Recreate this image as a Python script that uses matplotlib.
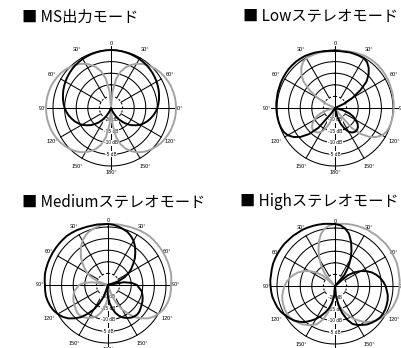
import numpy as np
import matplotlib
matplotlib.use("Agg")
import matplotlib.pyplot as plt

# polar response in dB, every 5 degrees clockwise from the front (0)
angles_deg = np.arange(0, 360, 5)

ms_black = [0, -0.03, -0.1, -0.2, -0.3, -0.45, -0.6, -0.8, -1.0, -1.3,
            -1.6, -1.95, -2.3, -2.7, -3.1, -3.55, -4.0, -4.5, -5.0, -5.7,
            -6.5, -7.4, -8.3, -9.4, -10.5, -12, -13.5, -15.2, -17, -19,
            -21, -23, -25, -25, -25, -25, -25, -25, -25, -25,
            -25, -23, -21, -19, -17, -15.2, -13.5, -12, -10.5, -9.4,
            -8.3, -7.4, -6.5, -5.7, -5.0, -4.5, -4.0, -3.55, -3.1, -2.7,
            -2.3, -1.95, -1.6, -1.3, -1.0, -0.8, -0.6, -0.45, -0.3, -0.2,
            -0.1, -0.03]
ms_gray = [-25, -18, -12.2, -8.7, -6.3, -4.5, -3.0, -1.8, -0.8, 0,
           0.7, 1.3, 1.75, 2.15, 2.5, 2.7, 2.9, 3.0, 3.0, 3.0,
           2.9, 2.7, 2.5, 2.15, 1.75, 1.3, 0.7, 0, -0.8, -1.8,
           -3.0, -4.5, -6.3, -8.7, -12.2, -18, -25, -18, -12.2, -8.7,
           -6.3, -4.5, -3.0, -1.8, -0.8, 0, 0.7, 1.3, 1.75, 2.15,
           2.5, 2.7, 2.9, 3.0, 3.0, 3.0, 2.9, 2.7, 2.5, 2.15,
           1.75, 1.3, 0.7, 0, -0.8, -1.8, -3.0, -4.5, -6.3, -8.7,
           -12.2, -18]

low_black = [-0.4, -0.4, -0.4, -0.2, -0.2, -0.2, -0.2, -0.9, -2.4, -4.5,
             -7.3, -11.6, -16.4, -20.7, -25, -25, -25, -25, -25, -25,
             -25, -21.6, -18.5, -16.4, -14.7, -13.1, -12.1, -11.6, -11.6, -12.1,
             -13.1, -15.1, -17.7, -20.7, -25, -25, -25, -25, -25, -25,
             -25, -25, -25, -22.0, -13.8, -9.1, -5.6, -3.2, -1.5, -0.6,
             -0.2, 0, 0.1, 0.2, 0.3, 0.4, 0.4, 0.6, 0.6, 0.8,
             0.9, 1.0, 1.1, 1.1, 1.1, 1.0, 0.9, 0.6, 0.4, 0.1,
             -0.1, -0.3]
low_gray = [-0.4, -0.3, -0.1, 0.1, 0.4, 0.6, 0.9, 1.0, 1.1, 1.1,
            1.1, 1.0, 0.9, 0.8, 0.6, 0.6, 0.4, 0.4, 0.3, 0.2,
            0.1, 0, -0.2, -0.6, -1.5, -3.2, -5.6, -9.1, -13.8, -22.0,
            -25, -25, -25, -25, -25, -25, -25, -25, -25, -20.7,
            -17.7, -15.1, -13.1, -12.1, -11.6, -11.6, -12.1, -13.1, -14.7, -16.4,
            -18.5, -21.6, -25, -25, -25, -25, -25, -25, -25, -20.7,
            -16.4, -11.6, -7.3, -4.5, -2.4, -0.9, -0.2, -0.2, -0.2, -0.2,
            -0.4, -0.4]

med_black = [1.3, 1.1, 0.6, 0, -0.6, -1.7, -3.0, -4.7, -6.7, -8.6,
             -10.8, -12.7, -14.7, -17.2, -20.3, -25, -18.1, -14.7, -12.5, -11.6,
             -10.3, -9.7, -9.1, -8.6, -8.2, -7.8, -7.3, -7.1, -7.3, -7.8,
             -8.6, -9.5, -10.8, -12.5, -14.7, -17.2, -19.8, -22.4, -25, -25,
             -19.8, -16.4, -12.9, -9.9, -6.9, -4.7, -2.6, -1.1, 0, 0.9,
             1.5, 1.9, 2.2, 2.2, 2.2, 2.4, 2.6, 2.6, 2.6, 2.6,
             2.6, 2.6, 2.6, 2.6, 2.6, 2.4, 2.2, 1.9, 1.7, 1.5,
             1.5, 1.3]
med_gray = [1.3, 1.3, 1.5, 1.5, 1.7, 1.9, 2.2, 2.4, 2.6, 2.6,
            2.6, 2.6, 2.6, 2.6, 2.6, 2.6, 2.6, 2.4, 2.2, 2.2,
            2.2, 1.9, 1.5, 0.9, 0, -1.1, -2.6, -4.7, -6.9, -9.9,
            -12.9, -16.4, -19.8, -25, -25, -22.4, -19.8, -17.2, -14.7, -12.5,
            -10.8, -9.5, -8.6, -7.8, -7.3, -7.1, -7.3, -7.8, -8.2, -8.6,
            -9.1, -9.7, -10.3, -11.6, -12.5, -14.7, -18.1, -25, -20.3, -17.2,
            -14.7, -12.7, -10.8, -8.6, -6.7, -4.7, -3.0, -1.7, -0.6, 0,
            0.6, 1.1]

high_black = [1.7, 1.3, 0.2, -1.7, -4.7, -8.2, -11.6, -14.9, -18.5, -25,
              -17.7, -14.7, -12.1, -9.9, -8.0, -6.5, -5.2, -4.1, -3.2, -2.6,
              -1.9, -1.5, -1.3, -1.1, -1.1, -1.3, -1.9, -2.6, -3.4, -4.5,
              -5.6, -6.9, -9.5, -12.9, -16.8, -21.1, -25, -20.7, -17.7, -15.1,
              -12.9, -10.8, -8.6, -6.7, -4.7, -3.2, -1.9, -0.9, 0, 0.9,
              1.5, 1.9, 2.4, 2.6, 2.8, 3.0, 3.0, 3.2, 3.4, 3.4,
              3.4, 3.4, 3.4, 3.2, 3.2, 3.0, 3.0, 2.8, 2.6, 2.4,
              2.2, 1.9]
high_gray = [1.7, 1.9, 2.2, 2.4, 2.6, 2.8, 3.0, 3.0, 3.2, 3.2,
             3.4, 3.4, 3.4, 3.4, 3.4, 3.2, 3.0, 3.0, 2.8, 2.6,
             2.4, 1.9, 1.5, 0.9, 0, -0.9, -1.9, -3.2, -4.7, -6.7,
             -8.6, -10.8, -12.9, -15.1, -17.7, -20.7, -25, -21.1, -16.8, -12.9,
             -9.5, -6.9, -5.6, -4.5, -3.4, -2.6, -1.9, -1.3, -1.1, -1.1,
             -1.3, -1.5, -1.9, -2.6, -3.2, -4.1, -5.2, -6.5, -8.0, -9.9,
             -12.1, -14.7, -17.7, -25, -18.5, -14.9, -11.6, -8.2, -4.7, -1.7,
             0.2, 1.3]

titles = ["■ MS出力モード", "■ Lowステレオモード",
          "■ Mediumステレオモード", "■ Highステレオモード"]

ring_levels = [0, -5, -10, -15]
db_labels = ["-20 dB", "-15 dB", "-10 dB", "-5 dB"]
db_label_levels = [-20, -15, -10, -5]
angle_ticks = [0, 30, 60, 90, 120, 150, 180, 210, 240, 270, 300, 330]
angle_texts = ["0", "30°", "60°", "90°", "120°", "150°", "180°",
               "150°", "120°", "90°", "60°", "30°"]

GRAY = "#a3a3a3"
W, H = 401, 348


def draw_polar(ax, black, gray):
    ax.set_theta_zero_location("N")
    ax.set_theta_direction(-1)
    ax.set_ylim(-25, 5)
    ax.grid(False)
    ax.set_xticks([])
    ax.set_yticks([])
    ax.spines["polar"].set_visible(False)
    ax.patch.set_alpha(0)

    full = np.linspace(0, 2 * np.pi, 361)
    for lvl in ring_levels:
        ax.plot(full, np.full_like(full, lvl), color="black", lw=0.75)
    ax.plot(full, np.full_like(full, -20), color="black", lw=0.75, ls=(0, (2, 2)))

    for a in [0, 90, 180, 270]:
        ax.plot([np.deg2rad(a)] * 2, [-25, 2.6], color="black", lw=0.75)
    for a in [30, 60, 120, 150, 210, 240, 300, 330]:
        ax.plot([np.deg2rad(a)] * 2, [-20, 0], color="black", lw=0.75)

    for lvl, txt in zip(db_label_levels, db_labels):
        ax.text(np.pi, lvl, txt, fontsize=3.4, ha="center", va="center",
                family="Liberation Sans", zorder=3,
                bbox=dict(facecolor="white", edgecolor="none", pad=0.4))

    for a, txt in zip(angle_ticks, angle_texts):
        r = 2.9 if a in (0, 180) else 4.3
        ax.text(np.deg2rad(a), r, txt, fontsize=4, ha="center", va="center",
                family="Liberation Sans", clip_on=False, zorder=3,
                bbox=dict(facecolor="white", edgecolor="none", pad=0.2))

    th = np.deg2rad(np.append(angles_deg, 360))
    ax.plot(th, np.append(gray, gray[0]), color=GRAY, lw=1.4, zorder=4, clip_on=False)
    ax.plot(th, np.append(black, black[0]), color="black", lw=1.4, zorder=5, clip_on=False)


fig = plt.figure(figsize=(W / 100, H / 100), dpi=100)

# centre (px from left, px from top) of each diagram; 0 dB ring radius in px
centres = [(111, 108), (335, 108), (108, 285), (335, 286)]
r0 = 58
half = r0 * 30 / 25
curves = [(ms_black, ms_gray), (low_black, low_gray),
          (med_black, med_gray), (high_black, high_gray)]

for (cx, cy), (bk, gy) in zip(centres, curves):
    ax = fig.add_axes([(cx - half) / W, (H - cy - half) / H, 2 * half / W, 2 * half / H],
                      projection="polar")
    draw_polar(ax, bk, gy)

title_pos = [(22, 17), (243, 17), (22, 202), (240, 202)]
for (tx, ty), t in zip(title_pos, titles):
    fig.text(tx / W, 1 - ty / H, t, fontsize=11, ha="left", va="center",
             family=["Noto Sans CJK JP", "DejaVu Sans"])

fig.savefig("out.png", dpi=100)
